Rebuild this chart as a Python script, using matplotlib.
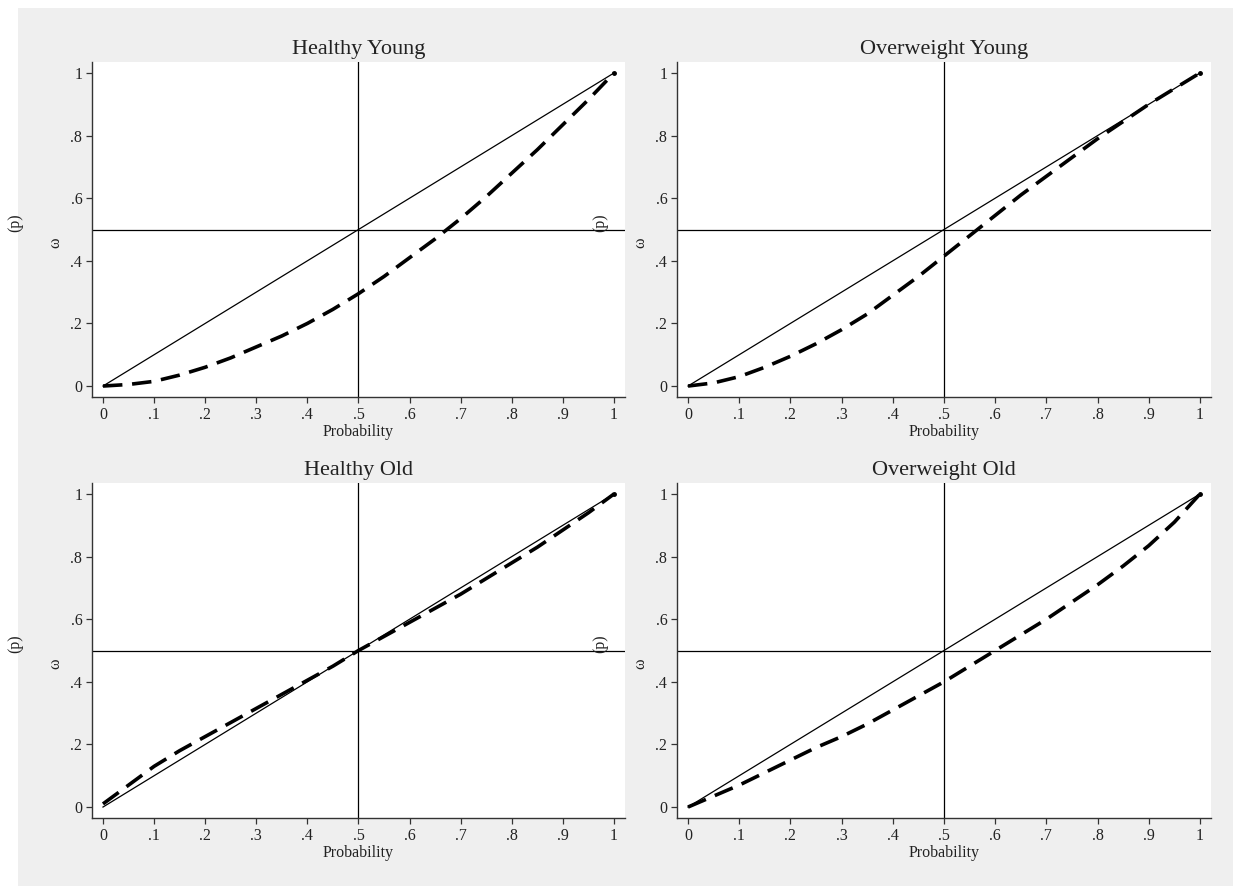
import matplotlib
matplotlib.use("Agg")
import matplotlib.pyplot as plt
from matplotlib.patches import Rectangle

plt.rcParams['font.family'] = ['Liberation Serif', 'DejaVu Serif']
plt.rcParams['lines.scale_dashes'] = False

p = [0.0, 0.05, 0.1, 0.15, 0.2, 0.25, 0.3, 0.35, 0.4, 0.45, 0.5,
     0.55, 0.6, 0.65, 0.7, 0.75, 0.8, 0.85, 0.9, 0.95, 1.0]

healthy_young = [0.0, 0.005, 0.015, 0.035, 0.06, 0.09, 0.125, 0.16, 0.2, 0.245, 0.295,
                 0.35, 0.41, 0.47, 0.535, 0.605, 0.68, 0.755, 0.835, 0.915, 1.0]
overweight_young = [0.0, 0.01, 0.03, 0.06, 0.095, 0.135, 0.18, 0.23, 0.29, 0.35, 0.415,
                    0.48, 0.545, 0.61, 0.67, 0.73, 0.79, 0.845, 0.9, 0.95, 1.0]
healthy_old = [0.01, 0.07, 0.13, 0.18, 0.225, 0.27, 0.315, 0.36, 0.405, 0.45, 0.5,
               0.545, 0.59, 0.635, 0.68, 0.73, 0.78, 0.83, 0.885, 0.94, 1.0]
overweight_old = [0.0, 0.035, 0.07, 0.11, 0.15, 0.19, 0.225, 0.265, 0.31, 0.355, 0.40,
                  0.45, 0.5, 0.55, 0.6, 0.655, 0.71, 0.77, 0.835, 0.91, 1.0]

titles = ["Healthy Young", "Overweight Young", "Healthy Old", "Overweight Old"]
series = [healthy_young, overweight_young, healthy_old, overweight_old]

xticks = [0, 0.1, 0.2, 0.3, 0.4, 0.5, 0.6, 0.7, 0.8, 0.9, 1.0]
xticklabels = ["0", ".1", ".2", ".3", ".4", ".5", ".6", ".7", ".8", ".9", "1"]
yticks = [0, 0.2, 0.4, 0.6, 0.8, 1.0]
yticklabels = ["0", ".2", ".4", ".6", ".8", "1"]

W, H = 1233, 886
fig = plt.figure(figsize=(W / 100, H / 100), dpi=100)
fig.patch.set_facecolor("white")
fig.patches.append(Rectangle((18 / W, 0), 1 - 18 / W, 1 - 8 / H,
                             transform=fig.transFigure, facecolor="#efefef",
                             edgecolor="none", zorder=-10))

# axes boxes in pixels: (left, top, right, bottom)
boxes = [(92, 62, 625, 397), (677, 62, 1211, 397),
         (92, 483, 625, 818), (677, 483, 1211, 818)]

for i, (box, title, ys) in enumerate(zip(boxes, titles, series)):
    l, t, r, b = box
    ax = fig.add_axes([l / W, 1 - b / H, (r - l) / W, (b - t) / H])
    ax.set_facecolor("white")
    ax.plot([0, 1], [0, 1], color="black", lw=0.9)
    ax.plot([1], [1], marker="o", ms=2.5, color="black")
    ax.axvline(0.5, color="black", lw=0.9)
    ax.axhline(0.5, color="black", lw=0.9)
    ax.plot(p, ys, color="black", lw=2.6, dashes=(14, 7), solid_capstyle="butt")
    ax.set_xlim(-0.0215, 1.0215)
    ax.set_ylim(-0.035, 1.035)
    ax.set_xticks(xticks)
    ax.set_xticklabels(xticklabels)
    ax.set_yticks(yticks)
    ax.set_yticklabels(yticklabels)
    for s in ["top", "right"]:
        ax.spines[s].set_visible(False)
    for s in ["left", "bottom"]:
        ax.spines[s].set_color("#333333")
        ax.spines[s].set_linewidth(1.0)
    ax.tick_params(direction="out", length=4, width=0.9, color="#333333",
                   labelsize=11.5, labelcolor="#222222", pad=3)
    ax.set_xlabel("Probability", fontsize=11.5, labelpad=1, color="#222222")
    ax.set_title(title, fontsize=16, pad=6, color="#222222")
    # split y label as in reference
    cy = (t + b) / 2
    fig.text((l - 37) / W, 1 - (cy + 13) / H, "ω", rotation=90, fontsize=11.5,
             ha="center", va="center", color="#222222")
    fig.text((l - 77) / W, 1 - (cy - 7) / H, "(p)", rotation=90, fontsize=11.5,
             ha="center", va="center", color="#222222")

fig.savefig("out.png", dpi=100)
